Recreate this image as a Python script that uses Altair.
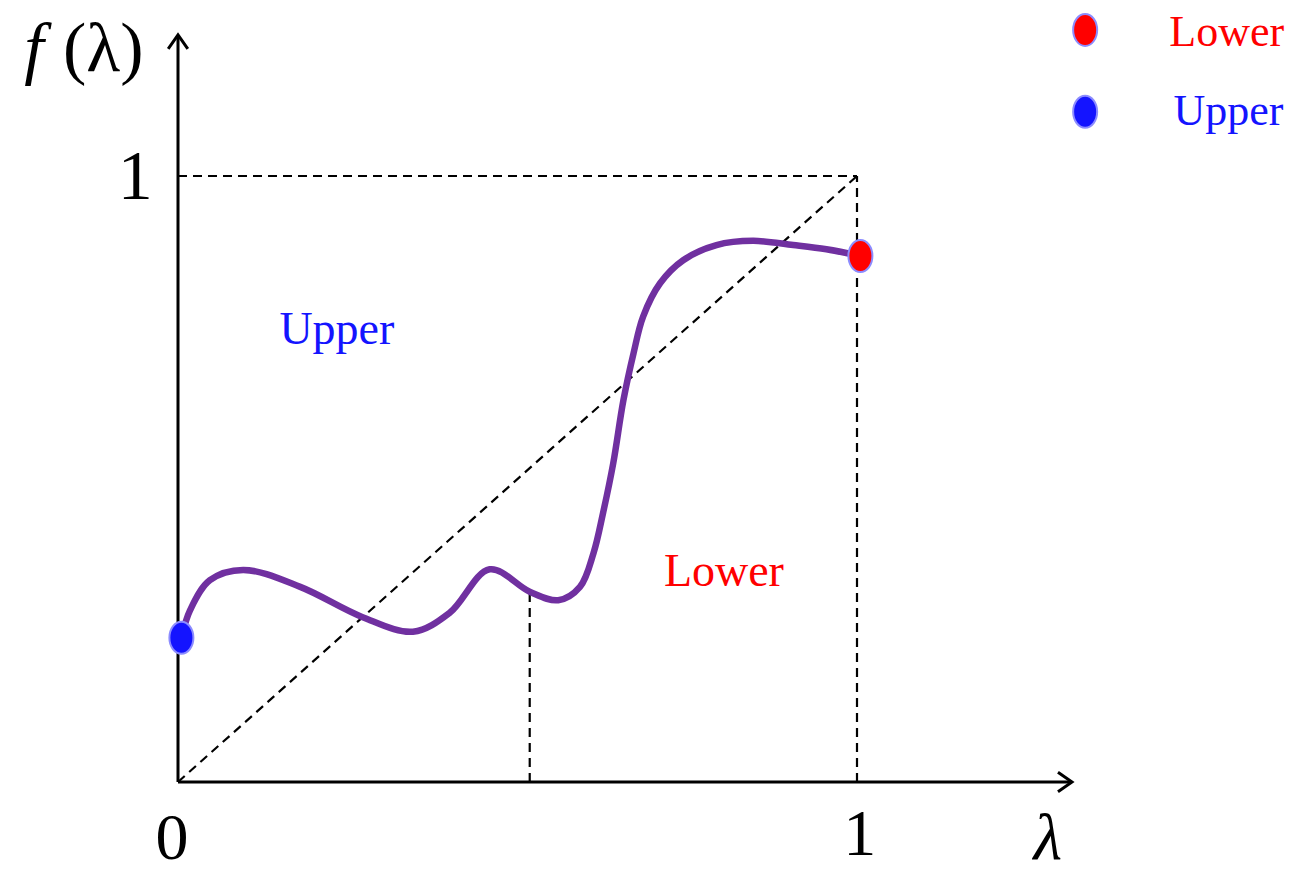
import altair as alt
import pandas as pd

# Curve f(lambda)
curve_x = [0.005, 0.018, 0.047, 0.096, 0.18, 0.272, 0.346, 0.40, 0.459, 0.518, 0.560, 0.592, 0.612, 0.626, 0.641,
           0.656, 0.671, 0.685, 0.710, 0.744, 0.793, 0.847, 0.906, 0.955, 1.005]
curve_y = [0.238, 0.284, 0.333, 0.350, 0.322, 0.272, 0.248, 0.279, 0.351, 0.314, 0.300, 0.322, 0.378, 0.444, 0.526,
           0.630, 0.708, 0.768, 0.823, 0.861, 0.886, 0.893, 0.886, 0.879, 0.868]

# Guide segments (dashed)
seg_x1 = [0.0, 0.0, 1.0, 0.518]
seg_y1 = [0.0, 1.0, 0.0, 0.0]
seg_x2 = [1.0, 1.0, 1.0, 0.518]
seg_y2 = [1.0, 1.0, 1.0, 0.314]

# End points
end_x = [0.005, 1.005]
end_y = [0.238, 0.868]
end_kind = ["Upper", "Lower"]

# Axis extents
axis_x_max = 1.3166
axis_y_max = 1.2327

# Labels
tick_text = ["0", "1"]
region_text = ["Upper", "Lower"]
legend_text = ["Lower", "Upper"]

W, H = 1289, 865
XD = [-170 / 679, (W - 170) / 679]
YD = [-(H - 774) / 606, 774 / 606]
xs = alt.Scale(domain=XD, nice=False, zero=False)
ys = alt.Scale(domain=YD, nice=False, zero=False)
X = lambda f: alt.X(f, type="quantitative", scale=xs, axis=None)
Y = lambda f: alt.Y(f, type="quantitative", scale=ys, axis=None)

colors = alt.Scale(domain=["Upper", "Lower"], range=["#1414FF", "#FF0000"])

curve = pd.DataFrame({"x": curve_x, "y": curve_y})
segs = pd.DataFrame({"x": seg_x1, "y": seg_y1, "x2": seg_x2, "y2": seg_y2})
axes = pd.DataFrame({"x": [0.0, 0.0], "y": [0.0, 0.0], "x2": [axis_x_max, 0.0], "y2": [0.0, axis_y_max]})
ends = pd.DataFrame({"x": end_x, "y": end_y, "k": end_kind})

dashed = alt.Chart(segs).mark_rule(color="black", strokeWidth=2.2, strokeDash=[9, 6]).encode(
    x=X("x"), y=Y("y"), x2="x2", y2="y2")
axis_lines = alt.Chart(axes).mark_rule(color="black", strokeWidth=3).encode(
    x=X("x"), y=Y("y"), x2="x2", y2="y2")
arrow_x = alt.Chart(pd.DataFrame({"x": [axis_x_max], "y": [0.0]})).mark_point(
    shape="M-1,-0.7L0,0L-1,0.7", filled=False, color="black", strokeWidth=3, size=784, opacity=1
).encode(x=X("x"), y=Y("y"))
arrow_y = alt.Chart(pd.DataFrame({"x": [0.0], "y": [axis_y_max]})).mark_point(
    shape="M-0.7,1L0,0L0.7,1", filled=False, color="black", strokeWidth=3, size=784, opacity=1
).encode(x=X("x"), y=Y("y"))

line = alt.Chart(curve).mark_line(color="#7030A0", strokeWidth=6.5, interpolate="catmull-rom").encode(
    x=X("x"), y=Y("y"), order="x:Q")

ellipse = "M-0.75,0A0.75,1,0,1,0,0.75,0A0.75,1,0,1,0,-0.75,0Z"
dots = alt.Chart(ends).mark_point(shape=ellipse, filled=True, size=1024, opacity=1,
                                  stroke="#8C8CFF", strokeWidth=2).encode(
    x=X("x"), y=Y("y"), fill=alt.Fill("k:N", scale=colors, legend=None))

xticks = pd.DataFrame({"t": tick_text, "x": [-0.009, 1.004], "y": [-0.127, -0.12]})
xtick_layer = alt.Chart(xticks).mark_text(font="Liberation Serif", fontSize=66, color="black",
                                          baseline="alphabetic", align="center").encode(
    x=X("x"), y=Y("y"), text="t:N")
ytick_layer = alt.Chart(pd.DataFrame({"t": ["1"], "x": [-0.063], "y": [0.997]})).mark_text(
    font="Liberation Serif", fontSize=70, color="black", baseline="middle", align="center"
).encode(x=X("x"), y=Y("y"), text="t:N")
lam = alt.Chart(pd.DataFrame({"t": ["λ"], "x": [1.281], "y": [-0.127]})).mark_text(
    font="Liberation Serif", fontSize=66, fontStyle="italic", color="black", baseline="alphabetic", align="center"
).encode(x=X("x"), y=Y("y"), text="t:N")
f_it = alt.Chart(pd.DataFrame({"t": ["f"], "x": [-0.212], "y": [1.173]})).mark_text(
    font="Liberation Serif", fontSize=70, fontStyle="italic", color="black", baseline="alphabetic", align="center"
).encode(x=X("x"), y=Y("y"), text="t:N")
f_arg = alt.Chart(pd.DataFrame({"t": ["(λ)"], "x": [-0.110], "y": [1.173]})).mark_text(
    font="Liberation Serif", fontSize=70, color="black", baseline="alphabetic", align="center"
).encode(x=X("x"), y=Y("y"), text="t:N")

regions = pd.DataFrame({"t": region_text, "x": [0.234, 0.804], "y": [0.746, 0.346]})
region_layer = alt.Chart(regions).mark_text(font="Liberation Serif", fontSize=46, baseline="middle",
                                            align="center").encode(
    x=X("x"), y=Y("y"), text="t:N", color=alt.Color("t:N", scale=colors, legend=None))

leg = pd.DataFrame({"t": legend_text, "x": [1.336, 1.336], "y": [1.241, 1.106], "tx": [1.460, 1.466]})
leg_text_y = [1.236, 1.106]
leg_dots = alt.Chart(leg).mark_point(shape=ellipse, filled=True, size=1024, opacity=1,
                                     stroke="#8C8CFF", strokeWidth=2).encode(
    x=X("x"), y=Y("y"), fill=alt.Fill("t:N", scale=colors, legend=None))
leg_text = alt.Chart(leg.assign(ty=leg_text_y)).mark_text(font="Liberation Serif", fontSize=44, baseline="middle",
                                    align="left").encode(
    x=X("tx"), y=Y("ty"), text="t:N", color=alt.Color("t:N", scale=colors, legend=None))

chart = alt.layer(dashed, axis_lines, arrow_x, arrow_y, line, dots, xtick_layer, ytick_layer, lam, f_it, f_arg,
                  region_layer, leg_dots, leg_text).properties(
    width=W, height=H, padding=0, autosize=alt.AutoSizeParams(type="none")
).configure_view(stroke=None)

chart.save("out.html", embed_options={"renderer": "svg", "actions": False})
